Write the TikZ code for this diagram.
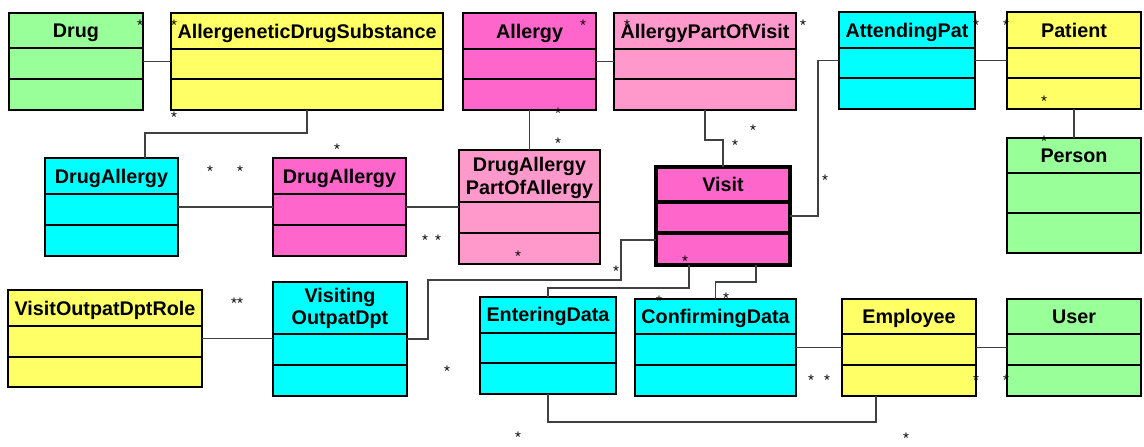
\documentclass[tikz,border=0pt]{standalone}
\usepackage{fontspec}
\setmainfont{Liberation Sans}
\usetikzlibrary{fit,calc}

\definecolor{clsgreen}{HTML}{99FF99}
\definecolor{clsyellow}{HTML}{FFFF66}
\definecolor{clsmagenta}{HTML}{FF66CC}
\definecolor{clspink}{HTML}{FF99CC}
\definecolor{clscyan}{HTML}{00FFFF}

\tikzset{
  clsframe/.style={draw=black, line width=1pt, inner sep=0pt, outer sep=0pt},
  clsthick/.style={draw=black, line width=1.8pt, inner sep=0pt, outer sep=0pt},
  title/.style={font=\fontsize{9.875pt}{11.25pt}\selectfont\bfseries, inner sep=0pt, anchor=base},
  title2/.style={title, anchor=center, align=center},
  mult/.style={font=\fontsize{7.6pt}{8.5pt}\selectfont, inner sep=0pt, yshift=-1.6pt},
  assoc/.style={draw=black!75, line width=0.7pt},
}

% class box: [frame style]{name}{fill}{x1}{y1}{x2}{y2}{first divider y}{second divider y}
\newcommand{\umlcls}[9][clsframe]{%
  \node[#1, fill=#3, fit={(#4,#5) (#6,#7)}] (#2) {};
  \draw[#1] (#4,#8) -- (#6,#8);
  \draw[#1] (#4,#9) -- (#6,#9);
}

\begin{document}
\begin{tikzpicture}[x=0.5pt, y=-0.5pt]
\useasboundingbox (0,0) rectangle (1144,446);

% classes
\umlcls{drug}{clsgreen}{9}{13}{143}{110}{48}{79}
\umlcls{ads}{clsyellow}{171}{13}{443}{110}{49}{79}
\umlcls{allergy}{clsmagenta}{463}{13}{596}{110}{49}{79}
\umlcls{apov}{clspink}{614}{13}{796}{110}{49}{79}
\umlcls{attpat}{clscyan}{839}{12}{975}{109}{48}{78}
\umlcls{patient}{clsyellow}{1007}{12}{1141}{109}{48}{78}
\umlcls{person}{clsgreen}{1007}{138}{1141}{253}{173}{213}
\umlcls{cda}{clscyan}{45}{158}{178}{256}{194}{225}
\umlcls{pda}{clsmagenta}{273}{158}{406}{256}{194}{225}
\umlcls{dapoa}{clspink}{459}{150}{600}{264}{202}{233}
\umlcls[clsthick]{visit}{clsmagenta}{656}{167}{790}{265}{202}{233}
\umlcls{vodr}{clsyellow}{8}{290}{202}{387}{326}{357}
\umlcls{vod}{clscyan}{273}{282}{407}{396}{334}{365}
\umlcls{entering}{clscyan}{480}{297}{616}{394}{333}{363}
\umlcls{confirming}{clscyan}{635}{299}{796}{396}{334}{365}
\umlcls{employee}{clsyellow}{842}{299}{976}{396}{334}{365}
\umlcls{user}{clsgreen}{1007}{299}{1141}{396}{334}{365}

% class names
\node[title] (drug-t) at (76,37.5) {Drug};
\node[title] (ads-t) at (307,38) {AllergeneticDrugSubstance};
\node[title] (allergy-t) at (529.5,38) {Allergy};
\node[title] (apov-t) at (705,38) {AllergyPartOfVisit};
\node[title] (attpat-t) at (907,37) {AttendingPat};
\node[title] (patient-t) at (1074,37) {Patient};
\node[title] (person-t) at (1074,162.5) {Person};
\node[title] (cda-t) at (111.5,183) {DrugAllergy};
\node[title] (pda-t) at (339.5,183) {DrugAllergy};
\node[title2] (dapoa-t) at (529.5,178) {DrugAllergy\\PartOfAllergy};
\node[title] (visit-t) at (723,191) {Visit};
\node[title] (vodr-t) at (105,315) {VisitOutpatDptRole};
\node[title2] (vod-t) at (340,308.5) {Visiting\\OutpatDpt};
\node[title] (entering-t) at (548,321.5) {EnteringData};
\node[title] (confirming-t) at (715.5,323.5) {ConfirmingData};
\node[title] (employee-t) at (909,323.5) {Employee};
\node[title] (user-t) at (1074,323.5) {User};

% associations
\draw[assoc] (drug.east) -- (ads.west);
\draw[assoc] (allergy.east) -- (apov.west);
\draw[assoc] (attpat.east) -- (patient.west);
\draw[assoc] (patient.south) -- (person.north);
\draw[assoc] (cda.east) -- (pda.west);
\draw[assoc] (pda.east) -- (dapoa.west);
\draw[assoc] (allergy.south) -- (dapoa.north);
\draw[assoc] (vodr.east) -- (vodr.east -| vod.west);
\draw[assoc] (confirming.east) -- (employee.west);
\draw[assoc] (employee.east) -- (user.west);
\draw[assoc] (ads.south) -- ++(0,23) -| ($(cda.north west)+(100,0)$);
\draw[assoc] (apov.south) -- ++(0,30) -| (visit.north);
\draw[assoc] (visit.east) -- ++(28,0) |- (attpat.west);
\draw[assoc] ($(visit.west)+(0,24)$) -| (621,280) -- (428,280) |- (vod.east);
\draw[assoc] ($(visit.south west)+(33,0)$) |- ($(entering.north)+(0,-9)$) -- (entering.north);
\draw[assoc] ($(visit.south west)+(100,0)$) |- ($(confirming.north)+(0,-17)$) -- (confirming.north);
\draw[assoc] (entering.south) |- ($(employee.south west)+(34,26)$) -- ($(employee.south west)+(34,0)$);

% multiplicities
\node[mult] (m1) at (140,22) {*};
\node[mult] (m2) at (174,22) {*};
\node[mult] (m3) at (174,114) {*};
\node[mult] (m4) at (583,22) {*};
\node[mult] (m5) at (627,22) {*};
\node[mult] (m6) at (803,22) {*};
\node[mult] (m7) at (976,22) {*};
\node[mult] (m8) at (1006,22) {*};
\node[mult] (m9) at (1044,98) {*};
\node[mult] (m10) at (1044,138) {*};
\node[mult] (m11) at (825,177) {*};
\node[mult] (m12) at (558,110) {*};
\node[mult] (m13) at (558,140) {*};
\node[mult] (m14) at (753,127) {*};
\node[mult] (m15) at (735,142) {*};
\node[mult] (m16) at (337,146) {*};
\node[mult] (m17) at (210,168) {*};
\node[mult] (m18) at (240,168) {*};
\node[mult] (m19) at (425,237) {*};
\node[mult] (m20) at (438,237) {*};
\node[mult] (m21) at (518,253) {*};
\node[mult] (m22) at (616,268) {*};
\node[mult] (m23) at (685,258) {*};
\node[mult] (m24) at (659,298) {*};
\node[mult] (m25) at (726,295) {*};
\node[mult] (m26) at (447,368) {*};
\node[mult] (m27) at (518,434) {*};
\node[mult] (m28) at (811,377) {*};
\node[mult] (m29) at (827,377) {*};
\node[mult] (m30) at (976,377) {*};
\node[mult] (m31) at (1006,377) {*};
\node[mult] (m32) at (906,435) {*};
\node[mult] (m33) at (237,300) {**};
\end{tikzpicture}
\end{document}
